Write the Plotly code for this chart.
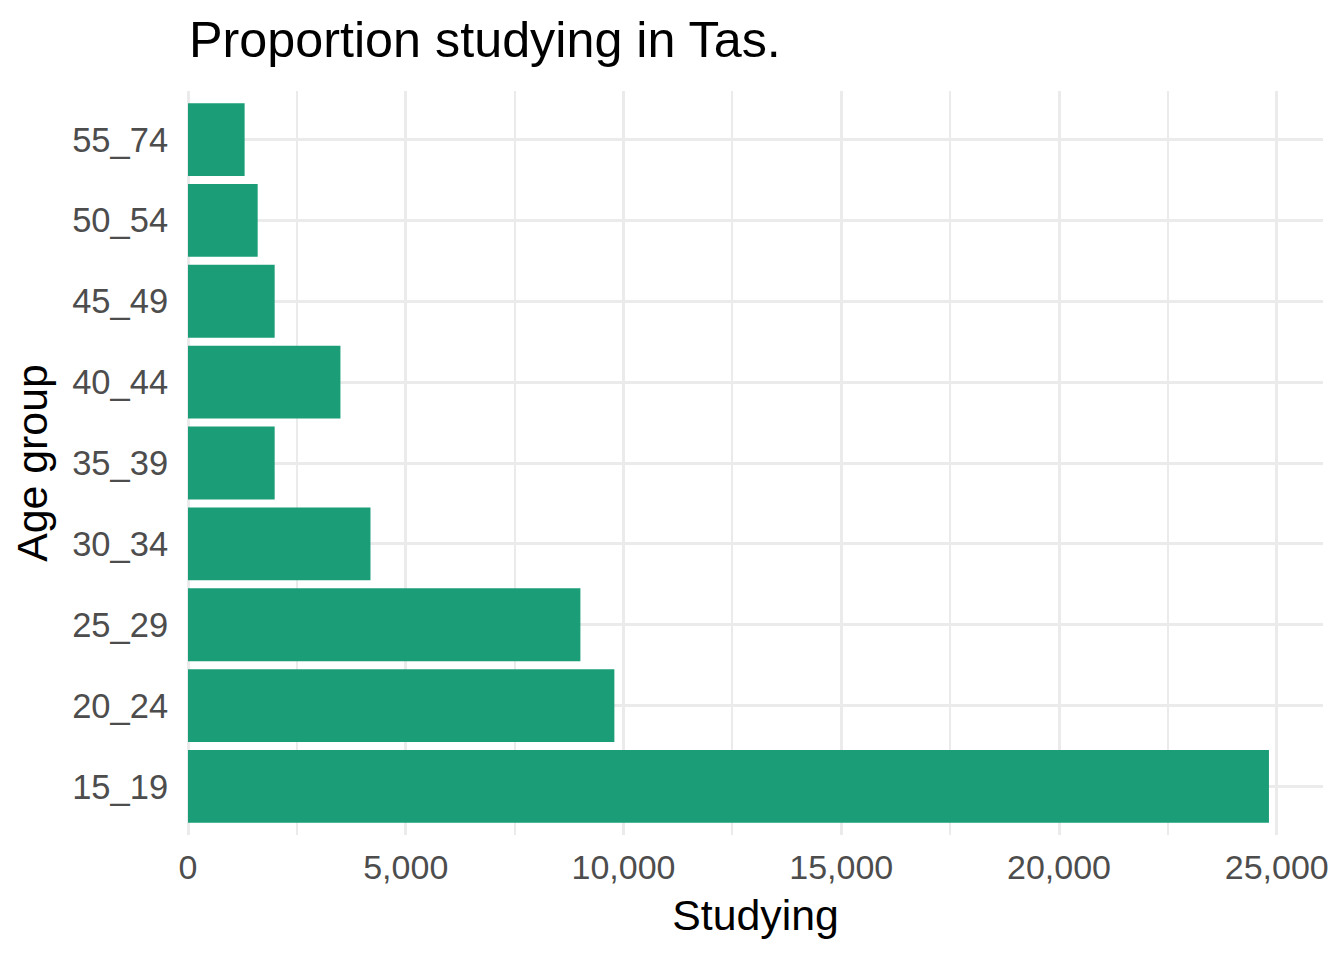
import plotly.graph_objects as go

age_groups = ["15_19", "20_24", "25_29", "30_34", "35_39", "40_44", "45_49", "50_54", "55_74"]
studying = [24820, 9790, 9010, 4190, 1990, 3500, 1990, 1600, 1300]
x_ticks = [0, 5000, 10000, 15000, 20000, 25000]
x_tick_labels = ["0", "5,000", "10,000", "15,000", "20,000", "25,000"]

FONT = "Liberation Sans, Arial, sans-serif"
GRID = "#EBEBEB"

# The page has an 8px body margin, so the figure is made 8px smaller.
W, H = 1336, 952

fig = go.Figure(
    go.Bar(
        x=studying,
        y=age_groups,
        orientation="h",
        width=0.9,
        marker=dict(color="#1B9E77", line=dict(width=0)),
    )
)

xmax = max(studying) * 1.05

fig.update_layout(
    width=W,
    height=H,
    paper_bgcolor="white",
    plot_bgcolor="white",
    margin=dict(l=180, r=21, t=83, b=125),
    showlegend=False,
    font=dict(family=FONT),
    title=dict(
        text="Proportion studying in Tas.",
        font=dict(family=FONT, size=50.3, color="black"),
        x=181 / W,
        xref="container",
        xanchor="left",
        y=1 - 31 / H,
        yref="container",
        yanchor="middle",
    ),
    xaxis=dict(
        range=[0, xmax],
        tickvals=x_ticks,
        ticktext=x_tick_labels,
        tickfont=dict(family=FONT, size=34, color="#4D4D4D"),
        showgrid=True,
        gridcolor=GRID,
        gridwidth=3.2,
        minor=dict(dtick=2500, showgrid=True, gridcolor=GRID, gridwidth=1.8),
        zeroline=True,
        zerolinecolor=GRID,
        zerolinewidth=3.2,
        showline=False,
        ticks="outside",
        ticklen=2,
        tickcolor="rgba(0,0,0,0)",
        title=dict(text="Studying", font=dict(family=FONT, size=42.8, color="black"), standoff=15),
    ),
    yaxis=dict(
        type="category",
        categoryorder="array",
        categoryarray=age_groups,
        range=[-0.6, len(age_groups) - 0.4],
        tickfont=dict(family=FONT, size=34.5, color="#4D4D4D"),
        showgrid=True,
        gridcolor=GRID,
        gridwidth=3.2,
        zeroline=False,
        showline=False,
        ticks="outside",
        ticklen=12,
        tickcolor="rgba(0,0,0,0)",
        title=dict(text="Age group", font=dict(family=FONT, size=42.8, color="black"), standoff=11),
    ),
)

fig.write_html("out.html")
